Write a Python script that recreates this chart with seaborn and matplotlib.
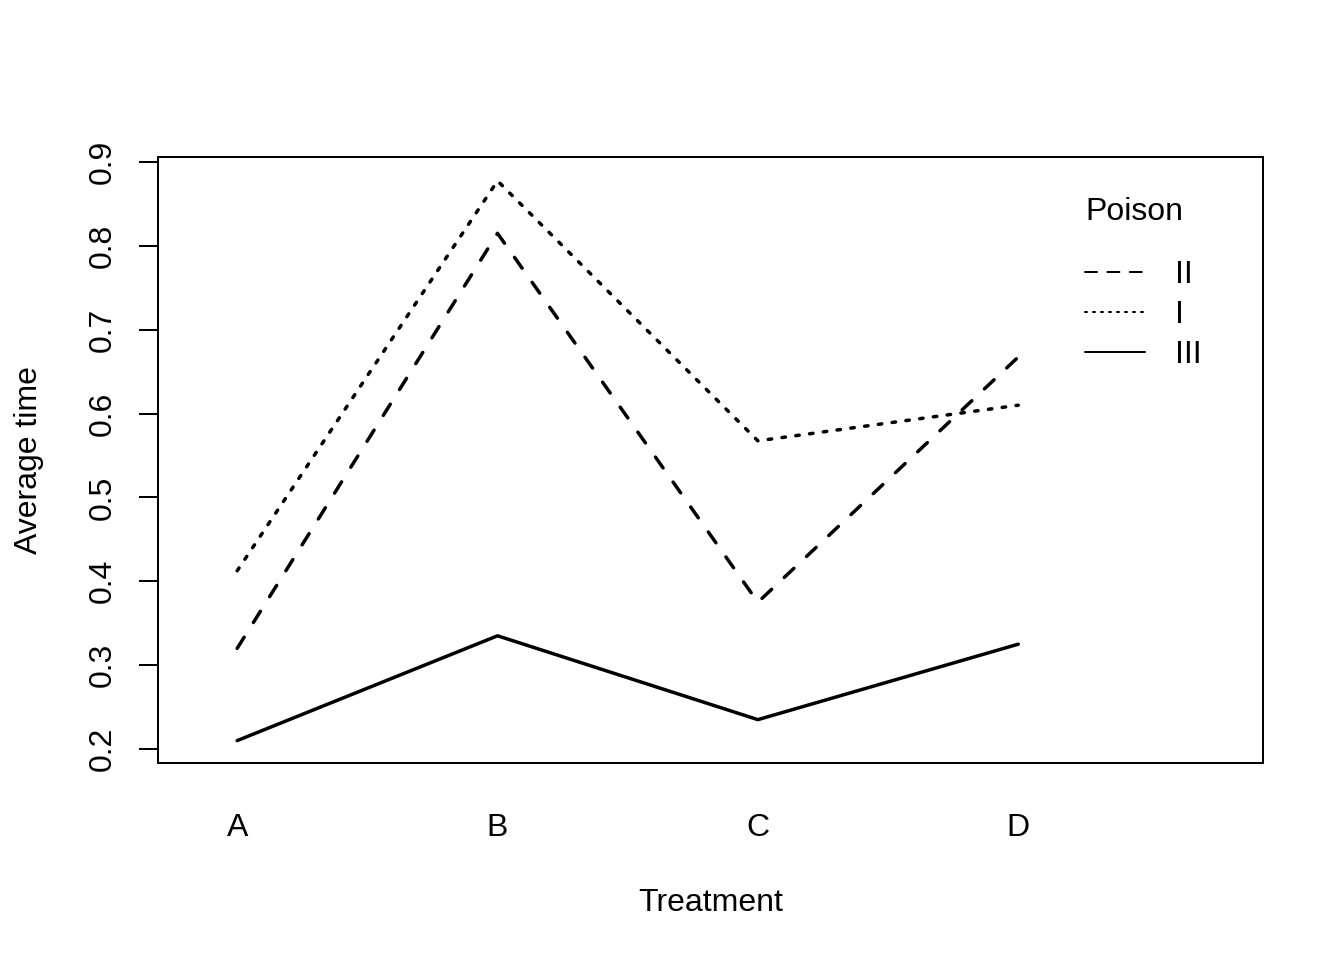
import numpy as np
import pandas as pd
import matplotlib
matplotlib.use("Agg")
import matplotlib.pyplot as plt
import seaborn as sns

# ---- data ----
treatments = ["A", "B", "C", "D"]
poison_I = [0.4125, 0.8775, 0.5675, 0.6100]
poison_II = [0.3200, 0.8150, 0.3750, 0.6675]
poison_III = [0.2100, 0.3350, 0.2350, 0.3250]
legend_order = ["II", "I", "III"]
yticks = [0.2, 0.3, 0.4, 0.5, 0.6, 0.7, 0.8, 0.9]
ytick_labels = ["0.2", "0.3", "0.4", "0.5", "0.6", "0.7", "0.8", "0.9"]

sns.set_style("ticks")
plt.rcParams["font.family"] = ["Liberation Sans", "DejaVu Sans"]
plt.rcParams["text.color"] = "black"
plt.rcParams["axes.labelcolor"] = "black"
plt.rcParams["xtick.color"] = "black"
plt.rcParams["ytick.color"] = "black"
plt.rcParams["axes.edgecolor"] = "black"

FS = 23
LW = 1.44
LW_DATA = 2.5

fig = plt.figure(figsize=(13.44, 9.6), dpi=100)
W, H = 1344, 960
ax = fig.add_axes([158 / W, 1 - 763 / H, (1263 - 158) / W, (763 - 157) / H])

pos = {t: i + 1 for i, t in enumerate(treatments)}
df = pd.DataFrame({
    "Treatment": treatments * 3,
    "time": poison_I + poison_II + poison_III,
    "Poison": ["I"] * 4 + ["II"] * 4 + ["III"] * 4,
})
df["x"] = df["Treatment"].map(pos)

sns.lineplot(data=df, x="x", y="time", style="Poison", style_order=legend_order,
             dashes={"II": (3.8, 5.0), "I": (1, 3), "III": ""}, color="black",
             linewidth=LW_DATA, ax=ax, dash_capstyle="round", solid_capstyle="round")

ax.set_xlim(0.696, 4.94)
ax.set_ylim(0.1833, 0.906)
ax.set_xticks([pos[t] for t in treatments])
ax.set_xticklabels(treatments, fontsize=FS)
ax.set_yticks(yticks)
ax.set_yticklabels(ytick_labels, fontsize=FS, rotation=90, va="center")
ax.tick_params(axis="x", length=0, pad=36)
ax.tick_params(axis="y", length=13.8, width=LW, pad=15, direction="out")
for s in ax.spines.values():
    s.set_visible(True)
    s.set_linewidth(LW)
    s.set_color("black")

ax.set_xlabel("Treatment", fontsize=FS, labelpad=32.5)
ax.set_ylabel("Average time", fontsize=FS, labelpad=31.5)

handles, labels = ax.get_legend_handles_labels()
legend_dashes = {"II": (6, 5.2), "I": (1, 3), "III": None}
for h, lab in zip(handles, labels):
    h.set_linewidth(LW)
    h.set_dash_capstyle("round")
    if legend_dashes.get(lab) is not None:
        h.set_dashes(legend_dashes[lab])
ax.legend(handles, labels, frameon=False, loc="upper left",
          bbox_to_anchor=(1085 / W, 1 - 260 / H), bbox_transform=fig.transFigure,
          fontsize=FS, handlelength=1.875, handletextpad=0.94, labelspacing=0.31,
          borderpad=0, borderaxespad=0)
fig.text(1085 / W, 1 - 212 / H, "Poison", fontsize=FS, ha="left", va="center")

fig.savefig("out.png", dpi=100, facecolor="white")
